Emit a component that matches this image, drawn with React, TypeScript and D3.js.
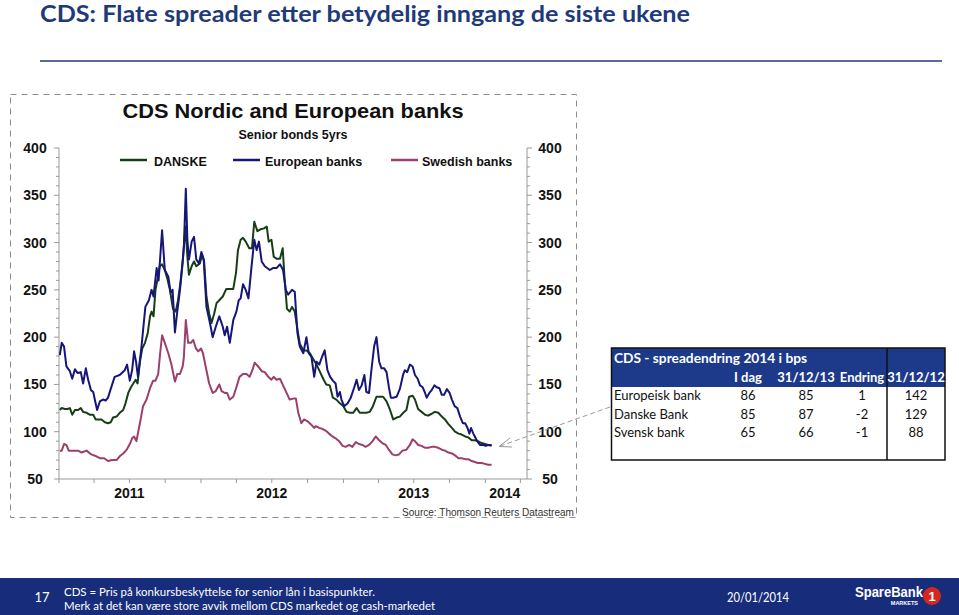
import React from "react";
import * as d3 from "d3";

const seriesNames = ["DANSKE", "European banks", "Swedish banks"];
const seriesColors = ["#173d17", "#16167a", "#9c3f6c"];

const danske: [string, number][] = [["2011-01-03",123],["2011-01-08",125],["2011-01-16",124],["2011-01-23",124],["2011-01-29",125],["2011-02-04",118],["2011-02-11",123],["2011-02-19",123],["2011-02-26",125],["2011-03-04",121],["2011-03-13",120],["2011-03-21",118],["2011-03-30",118],["2011-04-05",113],["2011-04-11",113],["2011-04-20",113],["2011-04-29",110],["2011-05-07",109],["2011-05-14",110],["2011-05-20",115],["2011-05-29",116],["2011-06-06",120],["2011-06-15",123],["2011-06-21",130],["2011-06-28",141],["2011-07-05",147],["2011-07-11",151],["2011-07-17",155],["2011-07-22",151],["2011-07-28",174],["2011-08-03",188],["2011-08-10",194],["2011-08-17",204],["2011-08-23",222],["2011-08-27",227],["2011-09-01",222],["2011-09-06",250],["2011-09-11",261],["2011-09-17",275],["2011-09-23",277],["2011-09-30",271],["2011-10-07",261],["2011-10-13",250],["2011-10-21",230],["2011-10-28",227],["2011-11-03",239],["2011-11-09",257],["2011-11-16",285],["2011-11-22",317],["2011-11-27",285],["2011-12-01",266],["2011-12-08",275],["2011-12-14",280],["2011-12-20",275],["2011-12-29",278],["2012-01-04",287],["2012-01-09",280],["2012-01-15",243],["2012-01-22",225],["2012-01-28",215],["2012-02-04",225],["2012-02-10",236],["2012-02-17",239],["2012-02-26",243],["2012-03-06",251],["2012-03-15",251],["2012-03-24",251],["2012-03-31",268],["2012-04-05",292],["2012-04-12",303],["2012-04-18",305],["2012-04-25",301],["2012-05-04",294],["2012-05-11",294],["2012-05-17",322],["2012-05-25",312],["2012-06-02",314],["2012-06-11",315],["2012-06-18",317],["2012-06-23",301],["2012-06-30",303],["2012-07-06",285],["2012-07-13",283],["2012-07-22",283],["2012-07-29",294],["2012-08-03",261],["2012-08-09",230],["2012-08-16",227],["2012-08-22",232],["2012-08-29",227],["2012-09-05",208],["2012-09-11",193],["2012-09-20",186],["2012-09-28",186],["2012-10-07",183],["2012-10-15",177],["2012-10-24",171],["2012-11-01",164],["2012-11-10",156],["2012-11-18",150],["2012-11-27",149],["2012-12-05",136],["2012-12-14",134],["2012-12-23",130],["2013-01-01",127],["2013-01-09",121],["2013-01-18",120],["2013-01-26",120],["2013-02-04",125],["2013-02-12",120],["2013-02-21",120],["2013-03-01",120],["2013-03-10",121],["2013-03-18",127],["2013-03-27",137],["2013-04-05",137],["2013-04-13",137],["2013-04-22",132],["2013-05-01",123],["2013-05-09",113],["2013-05-18",115],["2013-05-26",116],["2013-06-04",120],["2013-06-12",123],["2013-06-19",137],["2013-06-28",138],["2013-07-04",134],["2013-07-12",124],["2013-07-21",121],["2013-07-30",118],["2013-08-07",117],["2013-08-16",119],["2013-08-24",121],["2013-09-02",120],["2013-09-11",116],["2013-09-19",113],["2013-09-28",108],["2013-10-07",104],["2013-10-15",100],["2013-10-24",98],["2013-11-01",97],["2013-11-10",95],["2013-11-18",94],["2013-11-27",91],["2013-12-05",91],["2013-12-13",90],["2013-12-22",88],["2013-12-31",87],["2014-01-08",86],["2014-01-17",85]];

const european: [string, number][] = [["2011-01-03",181],["2011-01-08",194],["2011-01-14",190],["2011-01-20",169],["2011-01-29",164],["2011-02-04",156],["2011-02-11",166],["2011-02-18",162],["2011-02-26",163],["2011-03-04",151],["2011-03-11",167],["2011-03-17",155],["2011-03-24",144],["2011-03-30",142],["2011-04-03",134],["2011-04-09",123],["2011-04-16",132],["2011-04-24",134],["2011-05-01",133],["2011-05-07",136],["2011-05-13",144],["2011-05-24",158],["2011-06-06",160],["2011-06-19",165],["2011-06-25",171],["2011-07-02",154],["2011-07-08",165],["2011-07-13",185],["2011-07-18",174],["2011-07-23",158],["2011-08-01",190],["2011-08-11",232],["2011-08-20",239],["2011-08-27",250],["2011-09-01",243],["2011-09-09",273],["2011-09-14",260],["2011-09-23",313],["2011-09-30",271],["2011-10-09",264],["2011-10-15",247],["2011-10-20",250],["2011-10-26",205],["2011-11-01",227],["2011-11-08",250],["2011-11-14",275],["2011-11-18",296],["2011-11-23",357],["2011-11-27",303],["2011-12-01",282],["2011-12-08",301],["2011-12-14",306],["2011-12-20",282],["2011-12-27",278],["2012-01-02",290],["2012-01-08",282],["2012-01-15",232],["2012-01-24",215],["2012-01-31",200],["2012-02-08",211],["2012-02-17",222],["2012-02-26",211],["2012-03-02",202],["2012-03-08",211],["2012-03-15",194],["2012-03-24",218],["2012-04-01",227],["2012-04-07",239],["2012-04-12",241],["2012-04-18",256],["2012-04-25",250],["2012-05-02",241],["2012-05-10",275],["2012-05-17",303],["2012-05-23",292],["2012-05-29",301],["2012-06-05",280],["2012-06-13",275],["2012-06-26",271],["2012-07-04",273],["2012-07-13",273],["2012-07-22",277],["2012-07-30",271],["2012-08-06",250],["2012-08-12",245],["2012-08-22",250],["2012-08-29",248],["2012-09-05",204],["2012-09-11",190],["2012-09-20",183],["2012-09-28",200],["2012-10-04",183],["2012-10-11",179],["2012-10-18",158],["2012-10-24",174],["2012-10-31",171],["2012-11-07",179],["2012-11-14",186],["2012-11-21",165],["2012-11-28",158],["2012-12-05",154],["2012-12-12",151],["2012-12-17",137],["2012-12-23",142],["2012-12-27",134],["2013-01-03",127],["2013-01-12",130],["2013-01-20",136],["2013-01-29",147],["2013-02-04",155],["2013-02-10",144],["2013-02-17",149],["2013-02-24",160],["2013-03-01",142],["2013-03-08",141],["2013-03-14",165],["2013-03-21",190],["2013-03-27",200],["2013-04-03",174],["2013-04-09",167],["2013-04-16",167],["2013-04-22",163],["2013-04-28",147],["2013-05-03",136],["2013-05-09",136],["2013-05-18",137],["2013-05-26",145],["2013-06-04",161],["2013-06-08",165],["2013-06-14",163],["2013-06-21",171],["2013-06-28",169],["2013-07-04",160],["2013-07-11",156],["2013-07-17",149],["2013-07-24",147],["2013-07-30",141],["2013-08-03",136],["2013-08-10",141],["2013-08-16",144],["2013-08-23",149],["2013-08-29",147],["2013-09-05",146],["2013-09-11",139],["2013-09-17",139],["2013-09-24",145],["2013-10-01",141],["2013-10-07",134],["2013-10-14",127],["2013-10-21",125],["2013-10-28",116],["2013-11-04",109],["2013-11-10",109],["2013-11-16",104],["2013-11-21",98],["2013-11-25",104],["2013-12-01",98],["2013-12-05",95],["2013-12-11",90],["2013-12-18",86],["2013-12-27",86],["2014-01-02",85],["2014-01-08",86],["2014-01-17",86]];

const swedish: [string, number][] = [["2011-01-03",80],["2011-01-08",80],["2011-01-14",87],["2011-01-20",86],["2011-01-26",80],["2011-02-06",80],["2011-02-19",80],["2011-02-28",78],["2011-03-13",80],["2011-03-25",76],["2011-04-07",74],["2011-04-16",72],["2011-04-27",72],["2011-05-07",69],["2011-05-17",70],["2011-05-29",70],["2011-06-06",74],["2011-06-15",77],["2011-06-24",81],["2011-07-02",87],["2011-07-08",93],["2011-07-13",95],["2011-07-19",90],["2011-07-28",109],["2011-08-05",127],["2011-08-14",134],["2011-08-23",146],["2011-08-31",154],["2011-09-06",154],["2011-09-13",161],["2011-09-18",183],["2011-09-23",202],["2011-09-30",194],["2011-10-09",183],["2011-10-17",171],["2011-10-26",153],["2011-11-01",161],["2011-11-08",161],["2011-11-15",169],["2011-11-18",179],["2011-11-23",218],["2011-11-29",194],["2011-12-06",194],["2011-12-12",197],["2011-12-19",188],["2011-12-25",185],["2012-01-01",188],["2012-01-06",183],["2012-01-13",169],["2012-01-22",151],["2012-01-31",141],["2012-02-08",143],["2012-02-17",150],["2012-02-23",143],["2012-03-02",141],["2012-03-08",141],["2012-03-15",134],["2012-03-24",137],["2012-04-01",147],["2012-04-09",158],["2012-04-18",161],["2012-04-27",161],["2012-05-05",158],["2012-05-12",165],["2012-05-18",173],["2012-05-27",169],["2012-06-05",164],["2012-06-13",163],["2012-06-22",158],["2012-06-30",155],["2012-07-06",158],["2012-07-13",155],["2012-07-22",156],["2012-07-30",149],["2012-08-08",141],["2012-08-16",134],["2012-08-25",135],["2012-09-01",135],["2012-09-07",120],["2012-09-15",109],["2012-09-22",113],["2012-10-01",111],["2012-10-09",108],["2012-10-18",104],["2012-10-22",106],["2012-10-31",104],["2012-11-08",103],["2012-11-17",101],["2012-11-25",98],["2012-12-04",95],["2012-12-12",93],["2012-12-21",90],["2012-12-30",85],["2013-01-07",84],["2013-01-16",86],["2013-01-24",84],["2013-02-02",89],["2013-02-10",87],["2013-02-19",86],["2013-02-27",84],["2013-03-08",86],["2013-03-17",90],["2013-03-25",95],["2013-04-03",91],["2013-04-11",88],["2013-04-20",86],["2013-04-28",81],["2013-05-07",76],["2013-05-15",75],["2013-05-24",76],["2013-06-02",80],["2013-06-12",81],["2013-06-21",86],["2013-06-28",92],["2013-07-04",90],["2013-07-12",86],["2013-07-21",85],["2013-07-30",83],["2013-08-07",83],["2013-08-16",84],["2013-08-24",84],["2013-09-02",83],["2013-09-11",81],["2013-09-19",80],["2013-09-28",78],["2013-10-07",77],["2013-10-15",75],["2013-10-24",72],["2013-11-01",72],["2013-11-10",71],["2013-11-18",71],["2013-11-27",69],["2013-12-05",68],["2013-12-13",67],["2013-12-22",67],["2013-12-31",66],["2014-01-08",65],["2014-01-17",65]];

const yTickValues = [50, 100, 150, 200, 250, 300, 350, 400];
const yearLabels = ["2011", "2012", "2013", "2014"];
const yearLabelDates = ["2011-07-01", "2012-07-01", "2013-07-01", "2014-02-20"];

const tableTitle = "CDS - spreadendring 2014 i bps";
const tableCols = ["I dag", "31/12/13", "Endring", "31/12/12"];
const tableRows = ["Europeisk bank", "Danske Bank", "Svensk bank"];
const tableToday = [86, 85, 65];
const tableEnd2013 = [85, 87, 66];
const tableChange = [1, -2, -1];
const tableEnd2012 = [142, 129, 88];

const pageTitle = "CDS: Flate spreader etter betydelig inngang de siste ukene";
const chartTitle = "CDS Nordic and European banks";
const chartSubtitle = "Senior bonds 5yrs";
const sourceText = "Source: Thomson Reuters Datastream";
const footer1 = "CDS = Pris på konkursbeskyttelse for senior lån i basispunkter.";
const footer2 = "Merk at det kan være store avvik mellom CDS markedet og cash-markedet";
const footerDate = "20/01/2014";
const pageNumber = "17";

const parse = d3.timeParse("%Y-%m-%d");

export default function App() {
  const x = d3.scaleTime().domain([new Date(2011, 0, 1), new Date(2014, 3, 18)]).range([59, 527]);
  const y = d3.scaleLinear().domain([50, 400]).range([479, 148]);
  const line = d3
    .line<[string, number]>()
    .x((d) => x(parse(d[0]) as Date))
    .y((d) => y(d[1]));

  const quarterTicks = d3.timeMonth.every(3)!.range(new Date(2011, 0, 1), new Date(2014, 3, 18));
  const minorY = d3.range(50, 401, 10);
  const arial = "'Liberation Sans', Arial, sans-serif";
  const cal = "Lato, 'Open Sans', sans-serif";
  const axisColor = "#9a9a9a";
  const series = [danske, european, swedish];

  const tL = 611.5, tR = 945, tT = 348, tB = 460, tDiv = 887, tHead = 387;
  const colX = [748, 806, 862, 916];
  const rowY = [400, 418.5, 437];
  const tableVals = [tableToday, tableEnd2013, tableChange, tableEnd2012];

  return (
    <div style={{ position: "absolute", left: 0, top: 0 }}>
      <svg width={959} height={615} style={{ display: "block", background: "#fff" }}>
        <text x={40} y={22} fontFamily={cal} fontWeight={700} fontSize={23} fill="#1e3a78" textLength={650} lengthAdjust="spacingAndGlyphs">
          {pageTitle}
        </text>
        <line x1={40} x2={942} y1={61} y2={61} stroke="#1e3a78" strokeWidth={1.5} />

        <rect x={10.5} y={94.5} width={566} height={423} fill="none" stroke="#8c8c8c" strokeWidth={1} strokeDasharray="6,5" />

        <text x={293} y={118} textAnchor="middle" fontFamily={arial} fontWeight={700} fontSize={21} fill="#111" textLength={341} lengthAdjust="spacingAndGlyphs">
          {chartTitle}
        </text>
        <text x={293} y={139} textAnchor="middle" fontFamily={arial} fontWeight={700} fontSize={12.5} fill="#111">
          {chartSubtitle}
        </text>

        {[
          { lx: 120, tx: 154 },
          { lx: 233, tx: 265 },
          { lx: 391, tx: 422 },
        ].map((p, i) => (
          <g key={i}>
            <line x1={p.lx} x2={p.lx + 27} y1={160} y2={160} stroke={seriesColors[i]} strokeWidth={2.5} />
            <text x={p.tx} y={166} fontFamily={arial} fontWeight={700} fontSize={12.5} fill="#111">
              {seriesNames[i]}
            </text>
          </g>
        ))}

        <line x1={59} x2={59} y1={148} y2={479} stroke={axisColor} strokeWidth={1} />
        <line x1={527} x2={527} y1={148} y2={479} stroke={axisColor} strokeWidth={1} />
        <line x1={59} x2={527} y1={479} y2={479} stroke={axisColor} strokeWidth={1} />
        {minorY.map((v) => (
          <g key={v}>
            <line x1={v % 50 === 0 ? 54 : 56} x2={59} y1={y(v)} y2={y(v)} stroke={axisColor} />
            <line x1={527} x2={v % 50 === 0 ? 532 : 530} y1={y(v)} y2={y(v)} stroke={axisColor} />
          </g>
        ))}
        {quarterTicks.map((d, i) => (
          <line key={i} x1={x(d)} x2={x(d)} y1={479} y2={483} stroke={axisColor} />
        ))}
        {yTickValues.map((v) => (
          <g key={v}>
            <text x={35} y={y(v) + 5} textAnchor="middle" fontFamily={arial} fontWeight={700} fontSize={14} fill="#111">
              {v}
            </text>
            <text x={550} y={y(v) + 5} textAnchor="middle" fontFamily={arial} fontWeight={700} fontSize={14} fill="#111">
              {v}
            </text>
          </g>
        ))}
        {yearLabels.map((t, i) => (
          <text key={t} x={x(parse(yearLabelDates[i]) as Date)} y={498} textAnchor="middle" fontFamily={arial} fontWeight={700} fontSize={14} fill="#111">
            {t}
          </text>
        ))}
        <text x={574} y={516} textAnchor="end" fontFamily={arial} fontSize={10.5} fill="#333" textLength={172} lengthAdjust="spacingAndGlyphs">
          {sourceText}
        </text>

        {[0, 1, 2].map((i) => (
          <path key={i} d={line(series[i]) || ""} fill="none" stroke={seriesColors[i]} strokeWidth={2} strokeLinejoin="round" />
        ))}

        <line x1={610} y1={407} x2={499} y2={446.5} stroke="#999" strokeWidth={1} strokeDasharray="5,3" />
        <polyline points="510,438 499,446.5 512,447" fill="none" stroke="#999" strokeWidth={1} />

        <rect x={tL} y={tT} width={tR - tL} height={tHead - tT} fill="#1d3a8a" />
        <rect x={tL} y={tT} width={tR - tL} height={tB - tT} fill="none" stroke="#111" strokeWidth={1.5} />
        <line x1={tDiv} x2={tDiv} y1={tT} y2={tB} stroke="#111" strokeWidth={1.5} />
        <text x={614} y={363} fontFamily={cal} fontWeight={700} fontSize={14} fill="#fff" textLength={193} lengthAdjust="spacingAndGlyphs">
          {tableTitle}
        </text>
        {tableCols.map((c, j) => (
          <text key={c} x={colX[j]} y={382} textAnchor="middle" fontFamily={cal} fontWeight={700} fontSize={13} fill="#fff">
            {c}
          </text>
        ))}
        {tableRows.map((r, i) => (
          <g key={r}>
            <text x={614} y={rowY[i]} fontFamily={cal} fontSize={13} fill="#111">
              {r}
            </text>
            {tableVals.map((vals, j) => (
              <text key={j} x={colX[j]} y={rowY[i]} textAnchor="middle" fontFamily={cal} fontSize={13} fill="#111">
                {vals[i]}
              </text>
            ))}
          </g>
        ))}

        <rect x={0} y={578} width={959} height={37} fill="#172d7c" />
        <text x={42} y={602} textAnchor="middle" fontFamily={cal} fontSize={13} fill="#fff">
          {pageNumber}
        </text>
        <text x={64} y={596} fontFamily={cal} fontSize={12} fill="#fff" textLength={311} lengthAdjust="spacingAndGlyphs">
          {footer1}
        </text>
        <text x={64} y={610} fontFamily={cal} fontSize={12} fill="#fff" textLength={371} lengthAdjust="spacingAndGlyphs">
          {footer2}
        </text>
        <text x={727} y={602} fontFamily={cal} fontSize={13} fill="#fff" textLength={62} lengthAdjust="spacingAndGlyphs">
          {footerDate}
        </text>
        <text x={855} y={597} fontFamily={arial} fontWeight={700} fontSize={14} fill="#fff" textLength={68} lengthAdjust="spacingAndGlyphs">
          SpareBank
        </text>
        <text x={918} y={605} textAnchor="end" fontFamily={arial} fontWeight={700} fontSize={5.5} fill="#fff">
          MARKETS
        </text>
        <circle cx={932} cy={596} r={9} fill="#d7261e" />
        <text x={932} y={601} textAnchor="middle" fontFamily={arial} fontWeight={700} fontSize={13} fill="#fff">
          1
        </text>
      </svg>
    </div>
  );
}
